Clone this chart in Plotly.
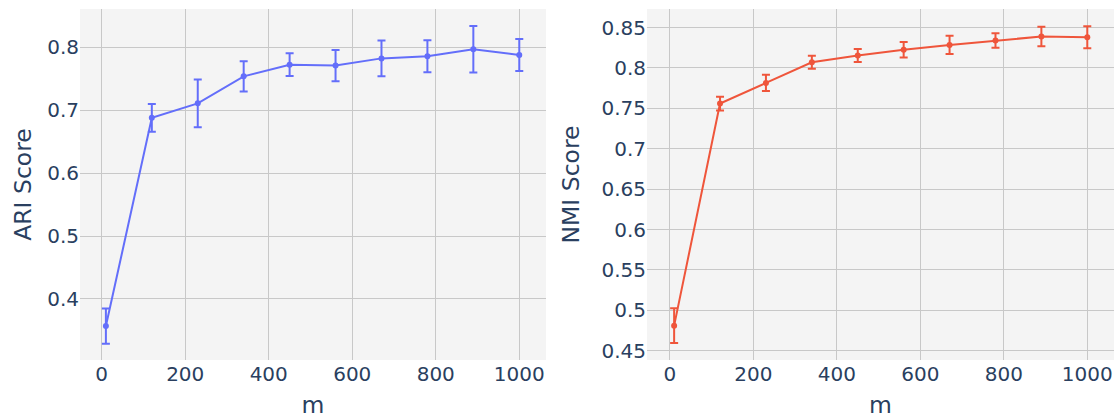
import plotly.graph_objects as go

m_values = [10, 120, 230, 340, 450, 560, 670, 780, 890, 1000]
ari_mean = [0.357, 0.688, 0.711, 0.754, 0.7725, 0.771, 0.7825, 0.786, 0.797, 0.788]
ari_std = [0.028, 0.022, 0.038, 0.024, 0.018, 0.025, 0.0285, 0.0255, 0.037, 0.0255]
nmi_mean = [0.481, 0.756, 0.7815, 0.807, 0.8155, 0.8225, 0.8285, 0.834, 0.8389, 0.838]
nmi_std = [0.0215, 0.0085, 0.010, 0.008, 0.008, 0.0095, 0.0113, 0.009, 0.012, 0.0135]

FONT = "DejaVu Sans"
TXT = "#2a3f5f"
GRID = "#c8c8c8"
BG = "#f4f4f4"

W, H = 1115, 419

fig = go.Figure()
fig.add_trace(go.Scatter(
    x=m_values, y=ari_mean, mode="lines+markers",
    line=dict(color="#636efa", width=2), marker=dict(color="#636efa", size=6),
    error_y=dict(type="data", array=ari_std, visible=True, color="#636efa", thickness=2, width=4),
    xaxis="x", yaxis="y", showlegend=False,
))
fig.add_trace(go.Scatter(
    x=m_values, y=nmi_mean, mode="lines+markers",
    line=dict(color="#EF553B", width=2), marker=dict(color="#EF553B", size=6),
    error_y=dict(type="data", array=nmi_std, visible=True, color="#EF553B", thickness=2, width=4),
    xaxis="x2", yaxis="y2", showlegend=False,
))

axis_common = dict(
    showgrid=True, gridcolor=GRID, gridwidth=1, zeroline=False, showline=False,
    ticks="", tickfont=dict(family=FONT, size=20, color=TXT), automargin=False,
)
title_font = dict(family=FONT, size=23.5, color=TXT)

fig.update_layout(
    width=W, height=H,
    margin=dict(l=0, r=0, t=9, b=59),
    paper_bgcolor="white", plot_bgcolor=BG,
    font=dict(family=FONT, color=TXT),
    xaxis=dict(domain=[80 / W, 546 / W], range=[-52, 1064], dtick=200,
               title=dict(text="m", font=title_font), anchor="y", **axis_common),
    yaxis=dict(domain=[0, 1], range=[0.303, 0.861], dtick=0.1,
               title=dict(text="ARI Score", font=title_font, standoff=8), anchor="x", **axis_common),
    xaxis2=dict(domain=[647 / W, 1114 / W], range=[-55, 1064], dtick=200,
                title=dict(text="m", font=title_font), anchor="y2", **axis_common),
    yaxis2=dict(domain=[0, 1], range=[0.4385, 0.873], dtick=0.05,
                title=dict(text="NMI Score", font=title_font), anchor="x2", **axis_common),
)

fig.write_html(
    "out.html",
    config={"displayModeBar": False},
    post_script="document.body.style.margin='0';document.body.style.overflow='hidden';",
)
